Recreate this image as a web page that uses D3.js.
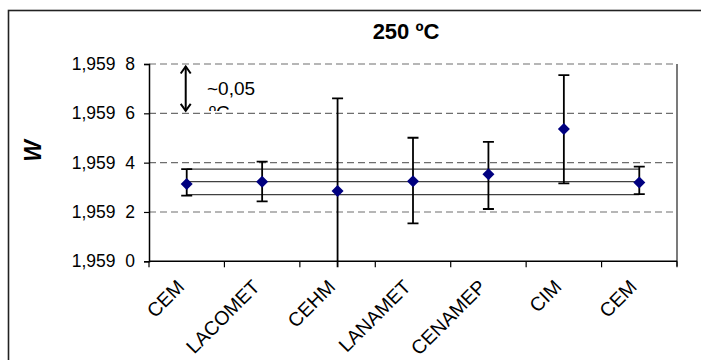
<!DOCTYPE html>
<html>
<head>
<meta charset="utf-8">
<script src="https://cdn.jsdelivr.net/npm/d3@7"></script>
<style>
  html, body { margin: 0; padding: 0; background: #fff; }
  svg { display: block; font-family: "Liberation Sans", Arial, sans-serif; }
</style>
</head>
<body>
<svg id="chart" width="701" height="360"></svg>
<script>
// ---- data ----
const categories = ["CEM", "LACOMET", "CEHM", "LANAMET", "CENAMEP", "CIM", "CEM"];
const values     = [1.959313, 1.959323, 1.959285, 1.959325, 1.959353, 1.959536, 1.959320];
const upper      = [1.959374, 1.959404, 1.959661, 1.959501, 1.959484, 1.959755, 1.959384];
const lower      = [1.959266, 1.959243, 1.958909, 1.959154, 1.959212, 1.959316, 1.959272];
const refLines   = [1.959374, 1.959323, 1.959270];
const yTicks     = [1.9590, 1.9592, 1.9594, 1.9596, 1.9598];
const yTickLabels = ["1,959\u20070", "1,959\u20072", "1,959\u20074", "1,959\u20076", "1,959\u20078"];
const title = "250 ºC";
const yTitle = "W";
const annotationText = ["~0,05", "ºC"];
const annotationSpan = [1.95979, 1.95961];

// ---- layout ----
const svg = d3.select("#chart");
const W = 701, H = 360;
const plot = { left: 149, right: 677, top: 64, bottom: 261.3 };

svg.append("rect").attr("width", W).attr("height", H).attr("fill", "#fff");
// outer chart border (extends beyond the canvas on right/bottom)
svg.append("rect").attr("x", 8.5).attr("y", 10.5).attr("width", W + 20).attr("height", H + 20)
  .attr("fill", "none").attr("stroke", "#222").attr("stroke-width", 1.6);

const x = d3.scaleBand().domain(d3.range(categories.length)).range([plot.left, plot.right]).padding(0);
const y = d3.scaleLinear().domain([yTicks[0], yTicks[yTicks.length - 1]]).range([plot.bottom, plot.top]);
const cx = i => x(i) + x.bandwidth() / 2;

// gridlines (dashed)
svg.append("g").selectAll("line").data(yTicks.slice(1)).join("line")
  .attr("x1", plot.left).attr("x2", plot.right)
  .attr("y1", d => y(d)).attr("y2", d => y(d))
  .attr("stroke", "#6e6e6e").attr("stroke-width", 1.2).attr("stroke-dasharray", "7,4");

// right border of plot area
svg.append("line").attr("x1", plot.right).attr("x2", plot.right)
  .attr("y1", plot.top).attr("y2", plot.bottom + 5)
  .attr("stroke", "#222").attr("stroke-width", 1.2);

// y axis
const yAxis = d3.axisLeft(y).tickValues(yTicks).tickFormat((d, i) => yTickLabels[i])
  .tickSize(5).tickPadding(9);
const gy = svg.append("g").attr("transform", `translate(${plot.left},0)`).call(yAxis);
gy.select(".domain").attr("stroke", "#000").attr("stroke-width", 1.5);
gy.selectAll(".tick line").attr("stroke", "#000").attr("stroke-width", 1.2);
gy.selectAll("text").attr("font-size", 17.5).attr("fill", "#000")
  .attr("font-family", "Liberation Sans, Arial, sans-serif");

// x axis
svg.append("line").attr("x1", plot.left).attr("x2", plot.right)
  .attr("y1", plot.bottom).attr("y2", plot.bottom)
  .attr("stroke", "#000").attr("stroke-width", 1.5);
const boundaries = d3.range(categories.length + 1).map(i => i < categories.length ? x(i) : plot.right);
svg.append("g").selectAll("line").data(boundaries).join("line")
  .attr("x1", d => d).attr("x2", d => d)
  .attr("y1", plot.bottom).attr("y2", plot.bottom + 6)
  .attr("stroke", "#000").attr("stroke-width", 1.2);

svg.append("g").selectAll("text").data(categories).join("text")
  .attr("transform", (d, i) => `translate(${cx(i) - 6},${plot.bottom + 22}) rotate(-45)`)
  .attr("text-anchor", "end")
  .attr("dy", "0.35em")
  .attr("font-size", 19.5)
  .attr("fill", "#000")
  .text(d => d);

// reference lines
svg.append("g").selectAll("line").data(refLines).join("line")
  .attr("x1", cx(0)).attr("x2", cx(categories.length - 1))
  .attr("y1", d => y(d)).attr("y2", d => y(d))
  .attr("stroke", "#404040").attr("stroke-width", 1.2);

// error bars (clipped to plot area + a few px)
const defs = svg.append("defs");
defs.append("clipPath").attr("id", "errclip").append("rect")
  .attr("x", plot.left).attr("y", plot.top - 10)
  .attr("width", plot.right - plot.left).attr("height", plot.bottom - plot.top + 16);
const eb = svg.append("g").attr("clip-path", "url(#errclip)");
const capW = 5.5;
categories.forEach((c, i) => {
  const g = eb.append("g");
  g.append("line").attr("x1", cx(i)).attr("x2", cx(i))
    .attr("y1", y(upper[i])).attr("y2", y(lower[i]))
    .attr("stroke", "#000").attr("stroke-width", 1.8);
  [upper[i], lower[i]].forEach(v => {
    if (v >= yTicks[0]) {
      g.append("line").attr("x1", cx(i) - capW).attr("x2", cx(i) + capW)
        .attr("y1", y(v)).attr("y2", y(v))
        .attr("stroke", "#000").attr("stroke-width", 1.8);
    }
  });
});

// diamonds
svg.append("g").selectAll("path").data(values).join("path")
  .attr("transform", (d, i) => `translate(${cx(i)},${y(d)}) rotate(45)`)
  .attr("d", d3.symbol().type(d3.symbolSquare).size(72))
  .attr("fill", "#000080");

// title
svg.append("text").attr("x", 406).attr("y", 39).attr("text-anchor", "middle")
  .attr("font-size", 22).attr("font-weight", "bold").attr("fill", "#000").text(title);

// y title
svg.append("text").attr("transform", `translate(41,151) rotate(-90)`)
  .attr("text-anchor", "middle").attr("font-size", 23)
  .attr("font-weight", "bold").attr("font-style", "italic").attr("fill", "#000").text(yTitle);

// annotation double arrow
const ax = cx(0) - 1;
const ay1 = y(annotationSpan[0]), ay2 = y(annotationSpan[1]);
const ag = svg.append("g").attr("stroke", "#000").attr("stroke-width", 2).attr("fill", "none");
ag.append("line").attr("x1", ax).attr("x2", ax).attr("y1", ay1).attr("y2", ay2);
ag.append("path").attr("d", `M${ax - 5},${ay1 + 7}L${ax},${ay1}L${ax + 5},${ay1 + 7}`);
ag.append("path").attr("d", `M${ax - 5},${ay2 - 7}L${ax},${ay2}L${ax + 5},${ay2 - 7}`);

defs.append("clipPath").attr("id", "annclip").append("rect")
  .attr("x", 195).attr("y", 60).attr("width", 120).attr("height", 51);
const at = svg.append("g").attr("clip-path", "url(#annclip)");
at.append("text").attr("x", 207).attr("y", 95).attr("font-size", 19).attr("fill", "#000").text(annotationText[0]);
at.append("text").attr("x", 209).attr("y", 119).attr("font-size", 19).attr("fill", "#000").text(annotationText[1]);
</script>
</body>
</html>
